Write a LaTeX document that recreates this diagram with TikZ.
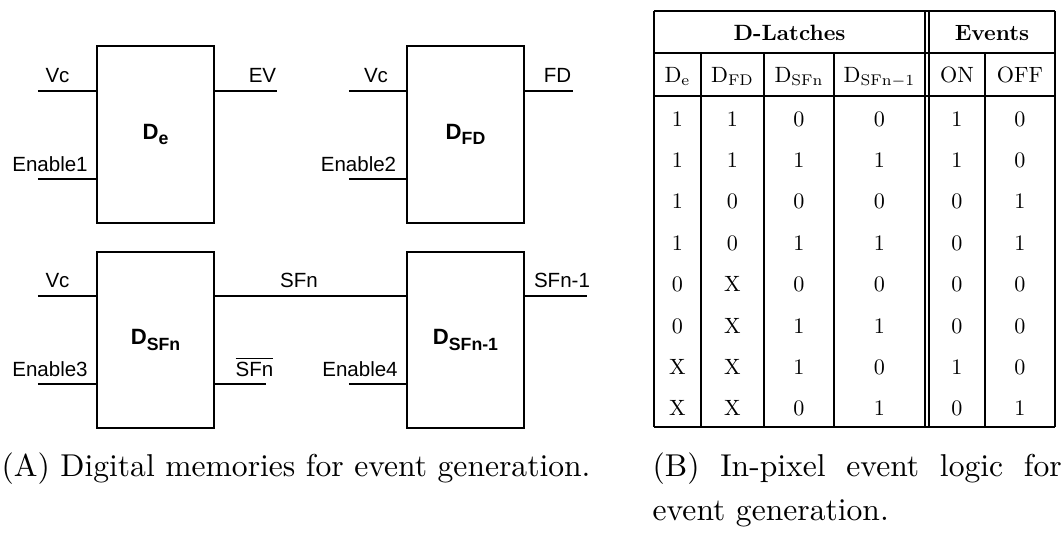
\documentclass[tikz,border=0pt]{standalone}
\usepackage{fontspec}
\newfontfamily\helv{Liberation Sans}

\newcommand{\dlatch}[1]{D\raisebox{-1.8pt}{\fontsize{5.6}{6}\selectfont #1}}
\newcommand{\tcell}[1]{\scalebox{0.7}{#1}}

\begin{document}
\begin{tikzpicture}[x=0.3165pt,y=-0.3165pt,
  latch/.style={draw,line width=0.65pt,minimum width=37pt,minimum height=55.9pt,inner sep=0pt,
    font=\helv\bfseries\fontsize{7}{8}\selectfont},
  pin/.style={line width=0.65pt},
  wirelbl/.style={anchor=base,inner sep=0pt,font=\helv\fontsize{6.5}{8}\selectfont},
  rule/.style={line width=0.35pt},
  cell/.style={anchor=base,inner sep=0pt,font=\fontsize{10}{12}\selectfont},
  headcell/.style={cell,font=\fontsize{10}{12}\selectfont\bfseries},
  capt/.style={anchor=base west,inner sep=0pt,font=\fontsize{10}{13.9}\selectfont}]

  \useasboundingbox (0,0) rectangle (1064,544);

  % latches
  \node[latch] (de)    at (155.5,134.5) {\dlatch{e}};
  \node[latch] (dfd)   at (465.5,134.5) {\dlatch{FD}};
  \node[latch] (dsfn)  at (155.5,340)   {\dlatch{SFn}};
  \node[latch] (dsfnm) at (465.5,340)   {\dlatch{SFn-1}};

  % free ends of the wires
  \coordinate (vc1)  at (38,91);
  \coordinate (en1)  at (38,179);
  \coordinate (ev)   at (277,91);
  \coordinate (vc2)  at (349,91);
  \coordinate (en2)  at (349,179);
  \coordinate (fd)   at (573,91);
  \coordinate (vc3)  at (38,296);
  \coordinate (en3)  at (38,384);
  \coordinate (sfnb) at (266,384);
  \coordinate (en4)  at (349,384);
  \coordinate (sfnm) at (587,296);

  \draw[pin] (vc1) -- (vc1 -| de.west);
  \draw[pin] (en1) -- (en1 -| de.west);
  \draw[pin] (de.east |- ev) -- (ev);
  \draw[pin] (vc2) -- (vc2 -| dfd.west);
  \draw[pin] (en2) -- (en2 -| dfd.west);
  \draw[pin] (dfd.east |- fd) -- (fd);
  \draw[pin] (vc3) -- (vc3 -| dsfn.west);
  \draw[pin] (en3) -- (en3 -| dsfn.west);
  \draw[pin] (dsfn.east |- vc3) -- (dsfnm.west |- vc3);
  \draw[pin] (dsfn.east |- sfnb) -- (sfnb);
  \draw[pin] (en4) -- (en4 -| dsfnm.west);
  \draw[pin] (dsfnm.east |- sfnm) -- (sfnm);

  \node[wirelbl] (vc1l) at (57.5,83) {Vc};
  \node[wirelbl] (en1l) at (50,172) {Enable1};
  \node[wirelbl] (evl)  at (262.5,83) {EV};
  \node[wirelbl] (vc2l) at (376,83) {Vc};
  \node[wirelbl] (en2l) at (358.5,172) {Enable2};
  \node[wirelbl] (fdl)  at (557.5,83) {FD};
  \node[wirelbl] (vc3l) at (57.5,288) {Vc};
  \node[wirelbl] (en3l) at (50,377) {Enable3};
  \node[wirelbl] (sfnl) at (299,288) {SFn};
  \node[wirelbl] (sfnbl) at (254.5,377) {$\overline{\mbox{SFn}}$};
  \node[wirelbl] (en4l) at (360,377) {Enable4};
  \node[wirelbl] (sfnml) at (562,288) {SFn-1};

  % table
  \foreach \x in {654,925,929,1055} \draw[rule] (\x,11) -- (\x,427);
  \foreach \x in {701,764,834,985} \draw[rule] (\x,53) -- (\x,427);
  \foreach \y in {11,53,96,427} \draw[rule] (654,\y) -- (1055,\y);

  \node[headcell] (hlatch) at (789.5,40.5) {\tcell{D-Latches}};
  \node[headcell] (hevent) at (992,40.5) {\tcell{Events}};
  \node[cell] (hde)   at (677.5,82.5) {\tcell{$\mathrm{D_e}$}};
  \node[cell] (hdfd)  at (732.5,82.5) {\tcell{$\mathrm{D_{FD}}$}};
  \node[cell] (hdsfn) at (799,82.5)   {\tcell{$\mathrm{D_{SFn}}$}};
  \node[cell] (hdsfnm) at (879.5,82.5) {\tcell{$\mathrm{D_{SFn-1}}$}};
  \node[cell] (hon)   at (957,82.5)   {\tcell{ON}};
  \node[cell] (hoff)  at (1020,82.5)  {\tcell{OFF}};

  \foreach \a/\b/\c/\d/\e/\f [count=\r] in {1/1/0/0/1/0, 1/1/1/1/1/0, 1/0/0/0/0/1, 1/0/1/1/0/1,
      0/X/0/0/0/0, 0/X/1/1/0/0, X/X/1/0/1/0, X/X/0/1/0/1} {
    \pgfmathsetmacro\yy{84.8+41.4*\r}
    \node[cell] (c\r a) at (677.5,\yy) {\tcell{\a}};
    \node[cell] (c\r b) at (732.5,\yy) {\tcell{\b}};
    \node[cell] (c\r c) at (799,\yy)   {\tcell{\c}};
    \node[cell] (c\r d) at (879.5,\yy) {\tcell{\d}};
    \node[cell] (c\r e) at (957,\yy)   {\tcell{\e}};
    \node[cell] (c\r f) at (1020,\yy)  {\tcell{\f}};
  }

  % captions
  \node[capt] (capa) at (1,477) {(A) Digital memories for event generation.};
  \node[capt] (capb) at (652,477) {\parbox[t]{129.5pt}{\tolerance=10000
    (B) In-pixel event logic for event generation.}};
\end{tikzpicture}
\end{document}
